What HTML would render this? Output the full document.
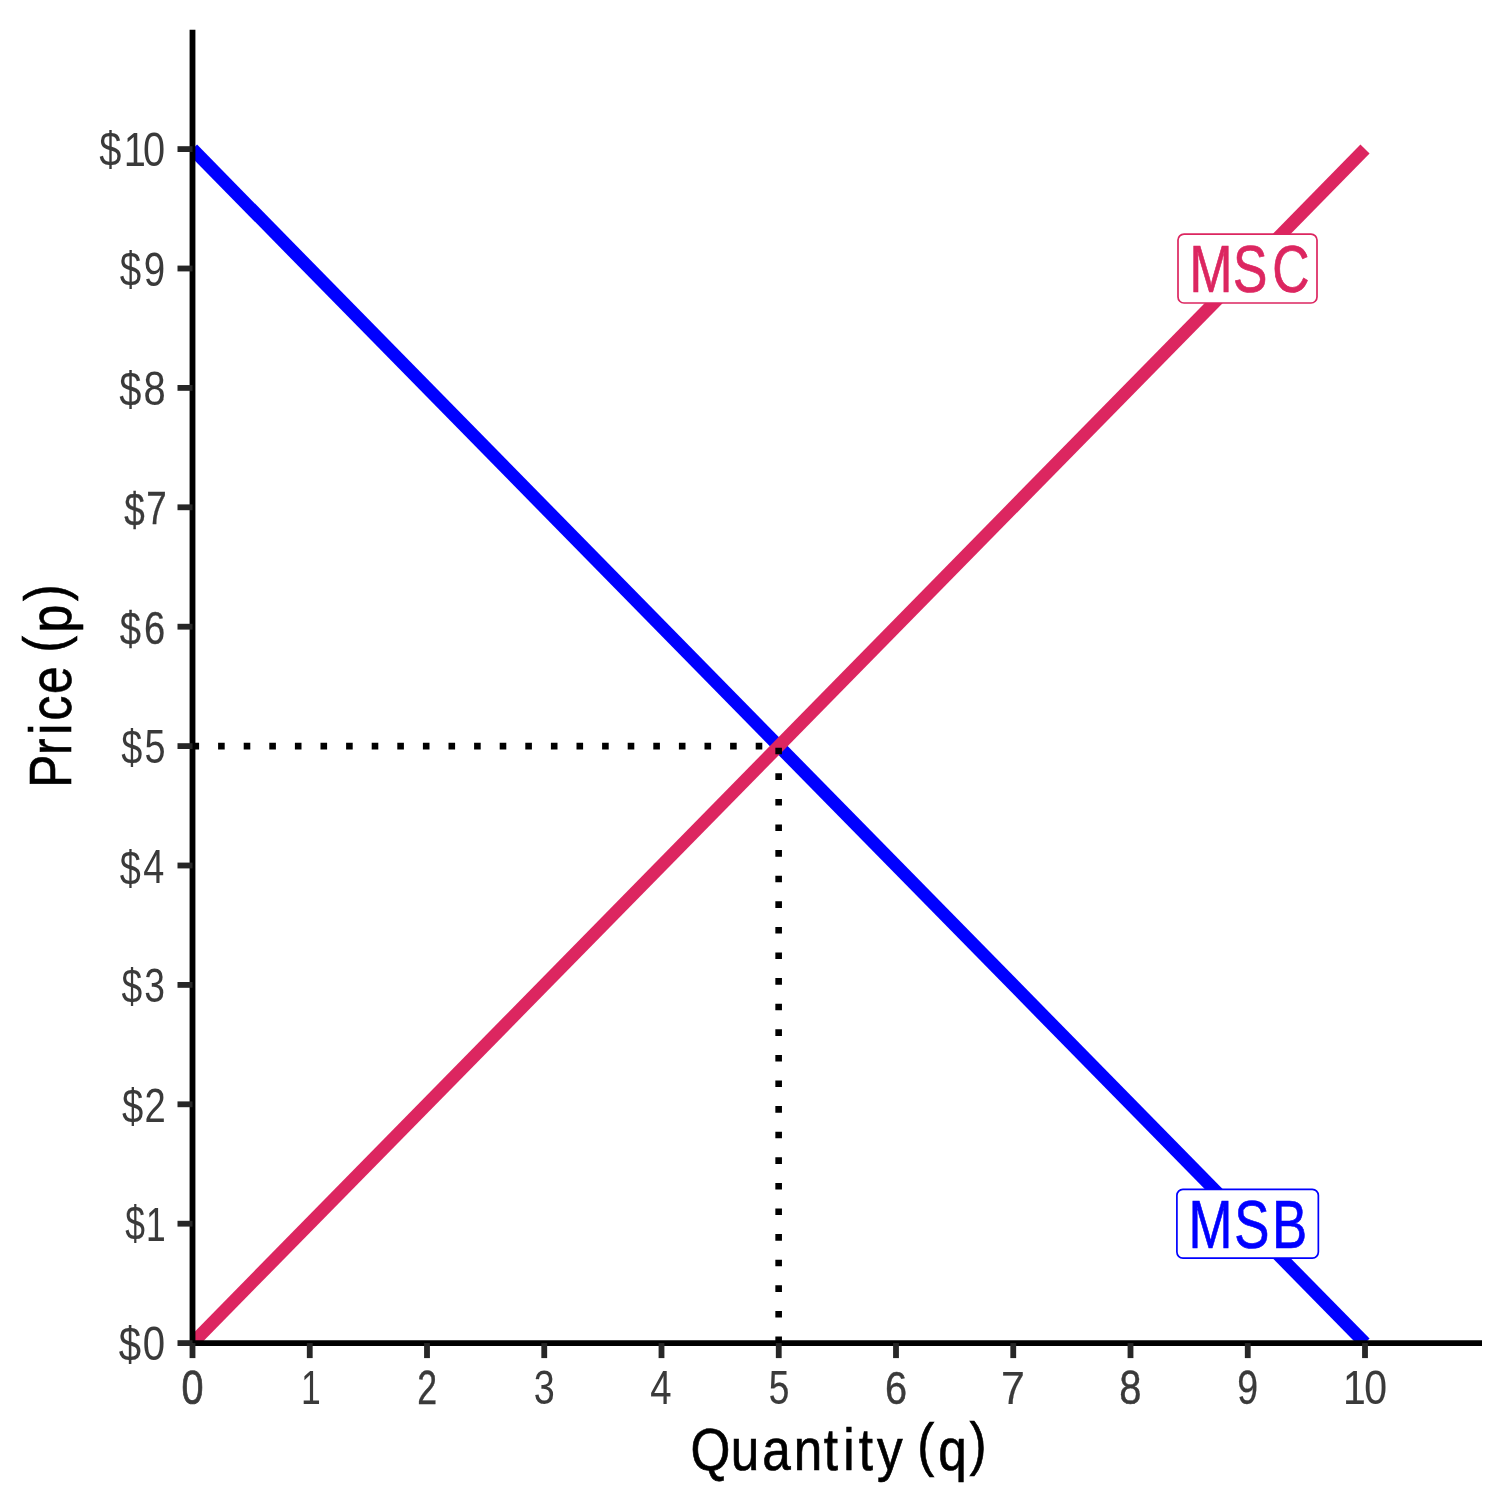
<!DOCTYPE html>
<html lang="en">
<head>
<meta charset="utf-8">
<title>MSB and MSC: Price (p) against Quantity (q)</title>
<style>
html,body{margin:0;padding:0;background:#ffffff;}
body{width:1512px;height:1512px;}
svg{display:block;}
text{font-family:"Liberation Sans",sans-serif;white-space:pre;font-kerning:none;}
</style>
</head>
<body>
<svg width="1512" height="1512" viewBox="0 0 1512 1512">
<rect x="0" y="0" width="1512" height="1512" fill="#ffffff"/>
<defs><clipPath id="panel"><rect x="192.5" y="29.8" width="1289.5" height="1313.3"/></clipPath></defs>
<!-- curves and guide lines, clipped to the plot panel -->
<g clip-path="url(#panel)" fill="none" stroke-linecap="butt">
<line x1="192.5" y1="149.1" x2="1365" y2="1343.1" stroke="#0000FF" stroke-width="12.8"/>
<line x1="192.5" y1="1343.1" x2="1365" y2="149.1" stroke="#DC2660" stroke-width="12.8"/>
<line x1="192.5" y1="746.1" x2="778.75" y2="746.1" stroke="#000000" stroke-width="6.6" stroke-dasharray="6.6 19"/>
<line x1="778.65" y1="1343.1" x2="778.65" y2="746.1" stroke="#000000" stroke-width="6.6" stroke-dasharray="6.6 19"/>
</g>
<!-- curve labels -->
<rect x="1178" y="234.1" width="139" height="68.9" rx="6" ry="6" fill="#ffffff" stroke="#DC2660" stroke-width="1.7"/>
<text transform="translate(0 292.41) scale(0.7553 0.9828)" x="1574.78 1632.38 1684.57" y="0 0 0" font-size="68.3" fill="#DC2660" stroke="#DC2660" stroke-width="0.66" vector-effect="non-scaling-stroke">MSC</text>
<rect x="1176.9" y="1189.3" width="141.45" height="68.8" rx="6" ry="6" fill="#ffffff" stroke="#0000FF" stroke-width="1.7"/>
<text transform="translate(0 1248.07) scale(0.7731 0.9943)" x="1537.21 1596.34 1645.36" y="0 0 0" font-size="68.3" fill="#0000FF" stroke="#0000FF" stroke-width="0.63" vector-effect="non-scaling-stroke">MSB</text>
<!-- axes -->
<line x1="192.5" y1="1343.1" x2="192.5" y2="29.8" stroke="#000000" stroke-width="5.82"/>
<line x1="192.5" y1="1343.1" x2="1482" y2="1343.1" stroke="#000000" stroke-width="5.82"/>
<g stroke="#262626" stroke-width="5.82" fill="none">
<line x1="177.5" y1="1343.1" x2="192.5" y2="1343.1"/>
<line x1="177.5" y1="1223.7" x2="192.5" y2="1223.7"/>
<line x1="177.5" y1="1104.3" x2="192.5" y2="1104.3"/>
<line x1="177.5" y1="984.9" x2="192.5" y2="984.9"/>
<line x1="177.5" y1="865.5" x2="192.5" y2="865.5"/>
<line x1="177.5" y1="746.1" x2="192.5" y2="746.1"/>
<line x1="177.5" y1="626.7" x2="192.5" y2="626.7"/>
<line x1="177.5" y1="507.3" x2="192.5" y2="507.3"/>
<line x1="177.5" y1="387.9" x2="192.5" y2="387.9"/>
<line x1="177.5" y1="268.5" x2="192.5" y2="268.5"/>
<line x1="177.5" y1="149.1" x2="192.5" y2="149.1"/>
<line x1="192.5" y1="1343.1" x2="192.5" y2="1358.1"/>
<line x1="309.75" y1="1343.1" x2="309.75" y2="1358.1"/>
<line x1="427" y1="1343.1" x2="427" y2="1358.1"/>
<line x1="544.25" y1="1343.1" x2="544.25" y2="1358.1"/>
<line x1="661.5" y1="1343.1" x2="661.5" y2="1358.1"/>
<line x1="778.75" y1="1343.1" x2="778.75" y2="1358.1"/>
<line x1="896" y1="1343.1" x2="896" y2="1358.1"/>
<line x1="1013.25" y1="1343.1" x2="1013.25" y2="1358.1"/>
<line x1="1130.5" y1="1343.1" x2="1130.5" y2="1358.1"/>
<line x1="1247.75" y1="1343.1" x2="1247.75" y2="1358.1"/>
<line x1="1365" y1="1343.1" x2="1365" y2="1358.1"/>
</g>
<!-- y axis tick labels -->
<g>
<text transform="translate(0 166.15) scale(0.8284 0.9934)" x="119.76 149.43 172.5" y="-0.23 0 0" font-size="48" fill="#3A3A3A">$10</text>
<text transform="translate(0 285.90) scale(0.8031 0.9937)" x="149.05 179.01" y="0.44 0" font-size="48" fill="#3A3A3A">$9</text>
<text transform="translate(0 405.25) scale(0.8296 0.9857)" x="143.84 173.11" y="0.44 0" font-size="48" fill="#3A3A3A" stroke="#3A3A3A" stroke-width="0.05" vector-effect="non-scaling-stroke">$8</text>
<text transform="translate(0 524.26) scale(0.7671 0.9821)" x="162.11 190.53" y="2 0" font-size="48" fill="#3A3A3A" stroke="#3A3A3A" stroke-width="0.30" vector-effect="non-scaling-stroke">$7</text>
<text transform="translate(0 643.88) scale(0.7954 0.9820)" x="150.48 180.91" y="0.98 0" font-size="48" fill="#3A3A3A" stroke="#3A3A3A" stroke-width="0.23" vector-effect="non-scaling-stroke">$6</text>
<text transform="translate(0 763.45) scale(0.7875 0.9891)" x="154.06 183.42" y="0.83 0" font-size="48" fill="#3A3A3A" stroke="#3A3A3A" stroke-width="0.01" vector-effect="non-scaling-stroke">$5</text>
<text transform="translate(0 882.55) scale(0.7886 0.9916)" x="151.95 181.75" y="2.74 0" font-size="48" fill="#3A3A3A">$4</text>
<text transform="translate(0 1001.89) scale(0.7750 0.9930)" x="156.69 186.03" y="1.59 0" font-size="48" fill="#3A3A3A">$3</text>
<text transform="translate(0 1121.59) scale(0.7959 0.9910)" x="153.41 181.67" y="1.32 0" font-size="48" fill="#3A3A3A">$2</text>
<text transform="translate(0 1240.93) scale(0.7370 0.9882)" x="169.81 198.2" y="-1.05 0" font-size="48" fill="#3A3A3A" stroke="#3A3A3A" stroke-width="0.08" vector-effect="non-scaling-stroke">$1</text>
<text transform="translate(0 1360.45) scale(0.8358 0.9852)" x="142.23 170.91" y="0.06 0" font-size="48" fill="#3A3A3A" stroke="#3A3A3A" stroke-width="0.08" vector-effect="non-scaling-stroke">$0</text>
</g>
<!-- x axis tick labels -->
<g>
<text transform="translate(0 1403.81) scale(0.8254 0.9881)" x="219.77" y="0" font-size="48" fill="#3A3A3A" stroke="#3A3A3A" stroke-width="0.68" vector-effect="non-scaling-stroke">0</text>
<text transform="translate(0 1404.22) scale(0.7404 0.9860)" x="406.59" y="0" font-size="48" fill="#3A3A3A">1</text>
<text transform="translate(0 1404.20) scale(0.7430 0.9951)" x="561.44" y="0" font-size="48" fill="#3A3A3A" stroke="#3A3A3A" stroke-width="0.38" vector-effect="non-scaling-stroke">2</text>
<text transform="translate(0 1404.22) scale(0.7867 0.9925)" x="678.57" y="0" font-size="48" fill="#3A3A3A" stroke="#3A3A3A" stroke-width="0.01" vector-effect="non-scaling-stroke">3</text>
<text transform="translate(0 1403.96) scale(0.7962 0.9949)" x="816.57" y="0" font-size="48" fill="#3A3A3A" stroke="#3A3A3A" stroke-width="0.07" vector-effect="non-scaling-stroke">4</text>
<text transform="translate(0 1403.96) scale(0.7727 0.9932)" x="995.01" y="0" font-size="48" fill="#3A3A3A" stroke="#3A3A3A" stroke-width="0.22" vector-effect="non-scaling-stroke">5</text>
<text transform="translate(0 1403.99) scale(0.8276 0.9815)" x="1069.48" y="0" font-size="48" fill="#3A3A3A" stroke="#3A3A3A" stroke-width="0.40" vector-effect="non-scaling-stroke">6</text>
<text transform="translate(0 1403.96) scale(0.8942 0.9814)" x="1119.49" y="0" font-size="48" fill="#3A3A3A" stroke="#3A3A3A" stroke-width="0.23" vector-effect="non-scaling-stroke">7</text>
<text transform="translate(0 1403.99) scale(0.8329 0.9903)" x="1343.88" y="0" font-size="48" fill="#3A3A3A" stroke="#3A3A3A" stroke-width="0.40" vector-effect="non-scaling-stroke">8</text>
<text transform="translate(0 1403.96) scale(0.7824 0.9881)" x="1581.3" y="0" font-size="48" fill="#3A3A3A" stroke="#3A3A3A" stroke-width="0.24" vector-effect="non-scaling-stroke">9</text>
<text transform="translate(0 1404.20) scale(0.8526 0.9891)" x="1575.2 1599.99" y="0 0" font-size="48" fill="#3A3A3A" stroke="#3A3A3A" stroke-width="0.16" vector-effect="non-scaling-stroke">10</text>
</g>
<!-- axis titles -->
<text transform="translate(0 1469.97) scale(0.8542 0.9925)" x="808.33 855.57 892.42 929.31 964.32 987.14 1005.24 1026.79 1056.86 1073.76 1098.37 1135.12" y="0 0 0 0 0 0 0 0 0 -4.57 0 -5.52" font-size="60" fill="#000000" stroke="#000000" stroke-width="0.64" vector-effect="non-scaling-stroke">Quantity (q)</text>
<text transform="translate(71.20 0) rotate(-90) scale(0.8311 0.9935)" x="-947.99 -908.56 -884.12 -866.79 -835.19 -801.54 -785.11 -761.01 -723.19" y="0 0 0 0 0 0 -6.75 0 -5.74" font-size="60" fill="#000000" stroke="#000000" stroke-width="0.56" vector-effect="non-scaling-stroke">Price (p)</text>
</svg>
</body>
</html>
